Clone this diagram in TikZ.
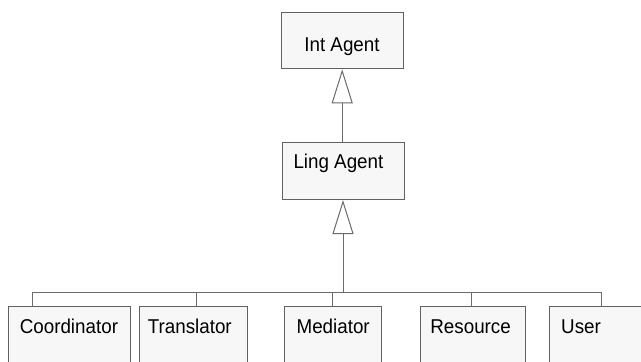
\documentclass[tikz,border=0pt]{standalone}
\usepackage{fontspec}
\setmainfont{Liberation Sans}[FakeStretch=0.94]
\usetikzlibrary{arrows.meta}
\begin{document}
\begin{tikzpicture}[x=1pt,y=-1pt,
  classbox/.style={draw=black!62, fill=black!3, line width=1pt, inner sep=0pt, anchor=north west},
  label/.style={inner sep=0pt, font=\fontsize{20}{24}\selectfont},
  link/.style={draw=black!58, line width=1pt},
  inherit/.style={link, -{Triangle[open, length=34pt, width=21pt, line width=1pt]}}]
\useasboundingbox (0,0) rectangle (641,362);
\clip (0,0) rectangle (641,362);
\fill[white] (0,0) rectangle (641,362);

% upper hierarchy
\node[classbox, minimum width=122pt, minimum height=56.6pt] (int) at (280.7,11.7) {};
\node[classbox, minimum width=122pt, minimum height=57.3pt] (ling) at (282,141.7) {};
\node[label, anchor=base] (intT) at (342,51) {Int Agent};
\node[label, anchor=base west] (lingT) at (293.3,168) {Ling Agent};

% leaf classes (boxes run past the lower edge)
\node[classbox, minimum width=121.7pt, minimum height=80pt] (coord) at (8.3,306) {};
\node[classbox, minimum width=108.3pt, minimum height=80pt] (trans) at (139,306) {};
\node[classbox, minimum width=97.3pt,  minimum height=80pt] (med)   at (283.7,306) {};
\node[classbox, minimum width=104.7pt, minimum height=80pt] (res)   at (420.3,306) {};
\node[classbox, minimum width=110pt,   minimum height=80pt] (user)  at (548.7,306) {};

\node[label, anchor=base west] (coordT) at (19.6,333) {Coordinator};
\node[label, anchor=base west] (transT) at (147.6,333) {Translator};
\node[label, anchor=base west] (medT)   at (296.4,333) {Mediator};
\node[label, anchor=base west] (resT)   at (430.2,333) {Resource};
\node[label, anchor=base west] (userT)  at (561,333) {User};

% bus and drop points
\coordinate (hub)  at (343,292.3);
\coordinate (busL) at (32.3,292.3);
\coordinate (busR) at (601,292.3);
\coordinate (dT)   at (196.7,292.3);
\coordinate (dM)   at (332.3,292.3);
\coordinate (dR)   at (471.7,292.3);

% generalisation arrows
\draw[inherit] (ling.north -| int.south) -- (int.south);
\draw[inherit] (hub) -- (hub |- ling.south);

% bus to the leaf classes
\draw[link] (busL) -- (busR);
\draw[link] (busL) -- (busL |- coord.north);
\draw[link] (dT) -- (dT |- trans.north);
\draw[link] (dM) -- (dM |- med.north);
\draw[link] (dR) -- (dR |- res.north);
\draw[link] (busR) -- (busR |- user.north);
\end{tikzpicture}
\end{document}
